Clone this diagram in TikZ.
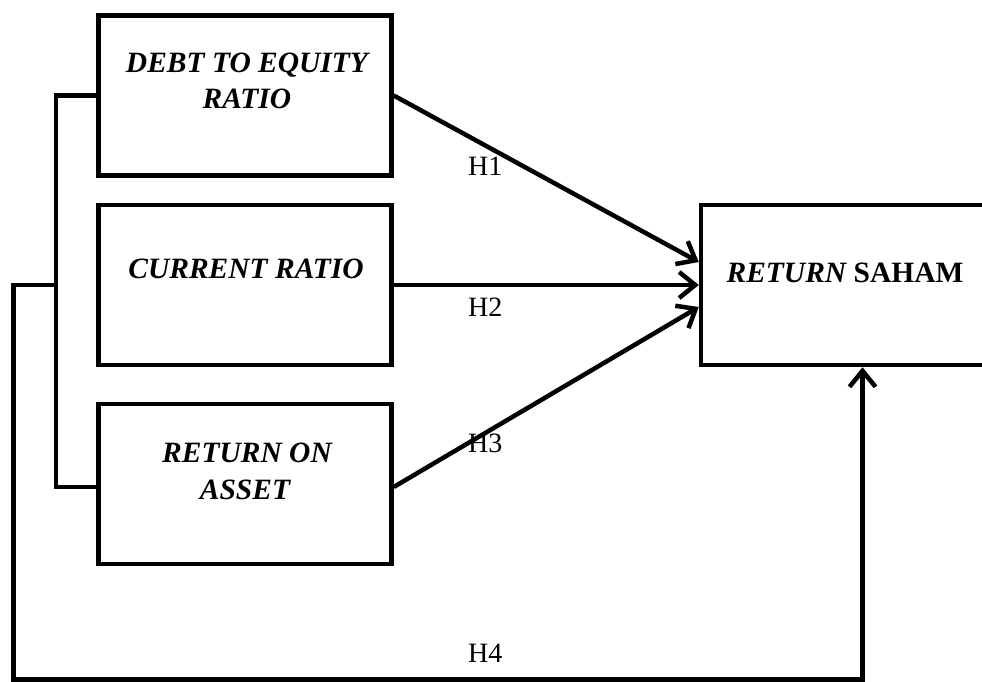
\documentclass[tikz,border=0pt]{standalone}
\usepackage{fontspec}
\setmainfont{Liberation Serif}
\usetikzlibrary{arrows.meta}
\begin{document}
\begin{tikzpicture}[x=1pt,y=-1pt,
  box/.style={draw=black,line width=4.5pt,minimum width=293pt,minimum height=160pt,inner sep=0pt},
  lbl/.style={inner sep=0pt,anchor=base,font=\fontsize{29.5}{36}\selectfont\bfseries\itshape},
  hlbl/.style={inner sep=0pt,anchor=base west,font=\fontsize{28}{34}\selectfont},
  conn/.style={line width=4.5pt,line join=miter},
  arr/.style={conn,-{Straight Barb[length=16pt,width=26pt,line width=4.5pt]}}]
\useasboundingbox (0,0) rectangle (982,681);
\clip (0,0) rectangle (982,681);
\fill[white] (0,0) rectangle (982,681);
% boxes
\node[box] (der) at (245,95.5) {};
\node[box] (cr) at (245,285) {};
\node[box] (roa) at (245,484) {};
\node[box,minimum width=300pt] (rs) at (851,285) {};
% box texts
\node[lbl] (derA) at (247,72) {DEBT TO EQUITY};
\node[lbl] (derB) at (247,108) {RATIO};
\node[lbl] (crA) at (246,278) {CURRENT RATIO};
\node[lbl] (roaA) at (247,462) {RETURN ON};
\node[lbl] (roaB) at (245,499) {ASSET};
\node[lbl] (rsA) at (845,282) {RETURN \upshape SAHAM};
% bracket
\coordinate (bt) at (56,95.5);
\coordinate (bb) at (56,487);
\coordinate (oj) at (56,285);
\coordinate (oc) at (13.5,285);
\coordinate (obr) at (862.5,679.5);
\draw[conn] (der.west) -- (bt) -- (bb) -- (roa.west |- bb);
% arrows
\draw[arr] (der.east) -- ([yshift=23pt]rs.west);
\draw[arr] (cr.east) -- (rs.west);
\draw[arr] ([yshift=-3pt]roa.east) -- ([yshift=-22pt]rs.west);
\draw[arr] (oj) -- (oc) |- (obr) -- (rs.south -| obr);
% labels
\node[hlbl] (h1) at (468,175) {H1};
\node[hlbl] (h2) at (468,316) {H2};
\node[hlbl] (h3) at (468,452) {H3};
\node[hlbl] (h4) at (468,662) {H4};
\end{tikzpicture}
\end{document}
